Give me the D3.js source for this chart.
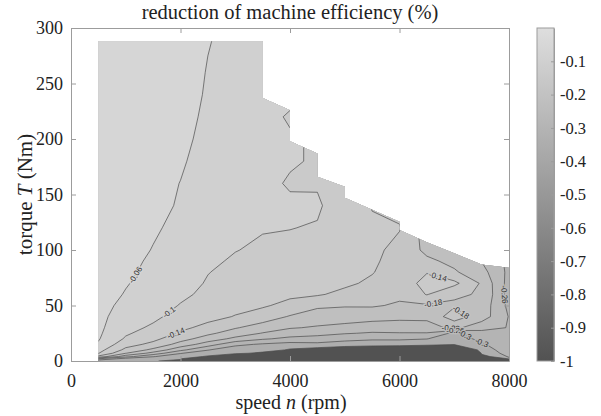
<!DOCTYPE html>
<html>
<head>
<meta charset="utf-8">
<script src="https://cdn.jsdelivr.net/npm/d3@7/dist/d3.min.js"></script>
<style>
  html, body { margin: 0; padding: 0; background: #fff; }
  svg { display: block; }
</style>
</head>
<body>
<svg id="chart" width="601" height="416"></svg>
<script>
// Measurement grid: speed columns (rpm) and torque rows (Nm)
const speeds = [500, 1000, 1500, 2000, 2500, 3000, 3500, 4000, 4500, 5000, 5500, 6000, 6500, 7000, 7500, 8000];
const torques = [0, 2, 4, 7, 10, 15, 20, 25, 30, 40, 50, 60, 70, 80, 90, 100, 120, 140, 160, 180, 200, 220, 240, 260, 290];

// Reduction of machine efficiency (%), one list per speed, ordered like `torques`
const reduction = [
  /* 500 */  [-0.335,-0.26,-0.15,-0.098,-0.085,-0.064,-0.057,-0.054,-0.052,-0.05,-0.048,-0.046,-0.045,-0.044,-0.043,-0.042,-0.04,-0.038,-0.036,-0.034,-0.032,-0.03,-0.028,-0.026,-0.024],
  /* 1000 */ [-0.338,-0.32,-0.245,-0.179,-0.15,-0.125,-0.105,-0.095,-0.088,-0.078,-0.069,-0.062,-0.058,-0.055,-0.053,-0.051,-0.048,-0.045,-0.043,-0.04,-0.038,-0.036,-0.034,-0.032,-0.03],
  /* 1500 */ [-0.335,-0.32,-0.298,-0.235,-0.19,-0.15,-0.13,-0.117,-0.106,-0.092,-0.083,-0.076,-0.071,-0.067,-0.064,-0.061,-0.057,-0.054,-0.051,-0.048,-0.045,-0.042,-0.04,-0.038,-0.035],
  /* 2000 */ [-0.36,-0.33,-0.32,-0.298,-0.25,-0.195,-0.165,-0.145,-0.131,-0.114,-0.102,-0.093,-0.086,-0.08,-0.075,-0.071,-0.066,-0.062,-0.0605,-0.057,-0.054,-0.051,-0.048,-0.046,-0.043],
  /* 2500 */ [-1,-0.9,-0.345,-0.32,-0.298,-0.24,-0.198,-0.172,-0.152,-0.127,-0.115,-0.108,-0.103,-0.099,-0.094,-0.09,-0.083,-0.077,-0.073,-0.07,-0.067,-0.065,-0.063,-0.0615,-0.0585],
  /* 3000 */ [-1,-1,-0.4,-0.33,-0.325,-0.29,-0.23,-0.198,-0.177,-0.142,-0.128,-0.12,-0.114,-0.109,-0.104,-0.099,-0.093,-0.088,-0.085,-0.082,-0.079,-0.076,-0.074,-0.071,-0.068],
  /* 3500 */ [-1,-1,-1,-0.35,-0.32,-0.305,-0.255,-0.222,-0.197,-0.16,-0.135,-0.126,-0.12,-0.115,-0.11,-0.105,-0.098,-0.094,-0.092,-0.09,-0.089,-0.088,-0.086,-0.084,-0.082],
  /* 4000 */ [-1,-1,-1,-0.9,-0.345,-0.315,-0.27,-0.24,-0.217,-0.183,-0.152,-0.132,-0.122,-0.115,-0.109,-0.105,-0.0995,-0.095,-0.103,-0.097,-0.096,-0.104,-0.09,-0.088,-0.086],
  /* 4500 */ [-1,-1,-1,-1,-0.36,-0.31,-0.275,-0.248,-0.224,-0.199,-0.173,-0.136,-0.125,-0.117,-0.111,-0.107,-0.1015,-0.097,-0.102,-0.103,-0.104,-0.105,-0.106,-0.106,-0.106],
  /* 5000 */ [-1,-1,-1,-1,-0.38,-0.315,-0.29,-0.257,-0.232,-0.2,-0.177,-0.15,-0.133,-0.124,-0.119,-0.116,-0.113,-0.113,-0.118,-0.12,-0.12,-0.12,-0.12,-0.12,-0.12],
  /* 5500 */ [-1,-1,-1,-1,-0.39,-0.32,-0.295,-0.264,-0.24,-0.205,-0.176,-0.16,-0.147,-0.138,-0.134,-0.132,-0.134,-0.142,-0.146,-0.15,-0.15,-0.15,-0.15,-0.15,-0.15],
  /* 6000 */ [-1,-1,-1,-1,-0.4,-0.32,-0.295,-0.262,-0.24,-0.21,-0.185,-0.172,-0.165,-0.16,-0.155,-0.15,-0.138,-0.15,-0.16,-0.16,-0.16,-0.16,-0.16,-0.16,-0.16],
  /* 6500 */ [-1,-1,-1,-1,-0.42,-0.325,-0.299,-0.262,-0.237,-0.21,-0.185,-0.138,-0.125,-0.142,-0.172,-0.19,-0.2,-0.2,-0.2,-0.2,-0.2,-0.2,-0.2,-0.2,-0.2],
  /* 7000 */ [-1,-1,-1,-1,-0.45,-0.335,-0.32,-0.31,-0.21,-0.16,-0.185,-0.175,-0.13,-0.175,-0.19,-0.2,-0.21,-0.21,-0.21,-0.21,-0.21,-0.21,-0.21,-0.21,-0.21],
  /* 7500 */ [-1,-1,-0.36,-0.33,-0.32,-0.305,-0.29,-0.275,-0.245,-0.2,-0.195,-0.183,-0.185,-0.205,-0.221,-0.23,-0.24,-0.24,-0.24,-0.24,-0.24,-0.24,-0.24,-0.24,-0.24],
  /* 8000 */ [-0.6,-0.31,-0.295,-0.285,-0.28,-0.275,-0.27,-0.265,-0.262,-0.262,-0.27,-0.275,-0.275,-0.27,-0.27,-0.27,-0.27,-0.27,-0.27,-0.27,-0.27,-0.27,-0.27,-0.27,-0.27]
];

// Maximum-torque envelope of the operating region (speed rpm, torque Nm)
const envelope = [[500, 0], [500, 288], [3500, 288], [3500, 237], [4000, 226], [4000, 198], [4500, 187], [4500, 166],
  [5000, 157], [5000, 147], [6000, 125.5], [6000, 118], [6500, 107], [7000, 97], [7500, 87], [8000, 84], [8000, 0]];

// Contour levels
const levels = [-0.34, -0.3, -0.26, -0.22, -0.18, -0.14, -0.1, -0.06, -0.02];

// Tick values
const speedTicks = [0, 2000, 4000, 6000, 8000];
const torqueTicks = [0, 50, 100, 150, 200, 250, 300];
const colorTicks = [-1, -0.9, -0.8, -0.7, -0.6, -0.5, -0.4, -0.3, -0.2, -0.1];

// Inline contour labels: level and the spot (rpm, Nm) near which it sits on its line
const contourLabels = [
  { level: -0.06, speed: 1130, torque: 79 },
  { level: -0.1, speed: 1850, torque: 40 },
  { level: -0.14, speed: 1940, torque: 22 },
  { level: -0.14, speed: 6700, torque: 76 },
  { level: -0.18, speed: 6610, torque: 54 },
  { level: -0.18, speed: 7120, torque: 44 },
  { level: -0.22, speed: 6940, torque: 32 },
  { level: -0.26, speed: 7020, torque: 28 },
  { level: -0.3, speed: 7230, torque: 27 },
  { level: -0.3, speed: 7540, torque: 21 },
  { level: -0.26, speed: 7930, torque: 60 }
];

const SERIF = "'Liberation Serif', 'Times New Roman', serif";
const svg = d3.select("#chart");
const plot = { left: 71, right: 509, top: 28, bottom: 361 };
const x = d3.scaleLinear().domain([0, 8000]).range([plot.left, plot.right]);
const y = d3.scaleLinear().domain([0, 300]).range([plot.bottom, plot.top]);
const shade = d3.scaleLinear().domain([-1, 0]).range(["#525252", "#dedede"]);

// Grid padded by one repeated row/column on every side so iso-lines never follow the data border
const pSpeeds = [speeds[0] - 250, ...speeds, speeds[speeds.length - 1] + 250];
const pTorques = [torques[0] - 5, ...torques, torques[torques.length - 1] + 10];
const nx = pSpeeds.length, ny = pTorques.length;
const grid = new Array(nx * ny);
for (let j = 0; j < ny; j++) {
  for (let i = 0; i < nx; i++) {
    const si = Math.min(Math.max(i - 1, 0), speeds.length - 1);
    const tj = Math.min(Math.max(j - 1, 0), torques.length - 1);
    grid[j * nx + i] = reduction[si][tj];
  }
}
// grid coordinate -> physical value along a (non-uniform) axis
function axisAt(arr, c) {
  const k = Math.min(Math.max(c - 0.5, 0), arr.length - 1);
  const i0 = Math.min(Math.floor(k), arr.length - 2);
  const f = k - i0;
  return arr[i0] + f * (arr[i0 + 1] - arr[i0]);
}
const toPx = (gx, gy) => [x(axisAt(pSpeeds, gx)), y(axisAt(pTorques, gy))];
const path = d3.geoPath(d3.geoTransform({
  point(gx, gy) { const p = toPx(gx, gy); this.stream.point(p[0], p[1]); }
}));
const bands = d3.contours().size([nx, ny]).thresholds(levels)(grid);

const defs = svg.append("defs");
defs.append("clipPath").attr("id", "region")
  .append("path")
  .attr("d", d3.line()(envelope.map(d => [x(d[0]), y(d[1])])) + "Z");

// Filled contour field
const field = svg.append("g").attr("clip-path", "url(#region)");
field.append("rect")
  .attr("x", plot.left).attr("y", plot.top)
  .attr("width", plot.right - plot.left).attr("height", plot.bottom - plot.top)
  .attr("fill", shade(-1));
field.selectAll("path.band").data(bands).join("path")
  .attr("class", "band")
  .attr("d", path)
  .attr("fill", d => shade(d.value));
field.selectAll("path.iso").data(bands).join("path")
  .attr("class", "iso")
  .attr("d", path)
  .attr("fill", "none")
  .attr("stroke", "#4c4c4c")
  .attr("stroke-width", 0.7)
  .attr("stroke-linejoin", "round");

// Contour labels snapped onto their iso-lines
function placeOnLine(level, px, py) {
  const band = bands.find(b => Math.abs(b.value - level) < 1e-9);
  let best = null;
  band.coordinates.flat().forEach(ring => {
    const pts = ring.map(p => toPx(p[0], p[1]));
    for (let k = 0; k < pts.length - 1; k++) {
      const [ax, ay] = pts[k], [bx, by] = pts[k + 1];
      const dx = bx - ax, dy = by - ay;
      const len2 = dx * dx + dy * dy;
      if (len2 === 0) continue;
      let t = ((px - ax) * dx + (py - ay) * dy) / len2;
      t = Math.max(0, Math.min(1, t));
      const qx = ax + t * dx, qy = ay + t * dy;
      const dist = (qx - px) ** 2 + (qy - py) ** 2;
      if (!best || dist < best.dist) best = { dist, qx, qy, angle: Math.atan2(dy, dx) * 180 / Math.PI };
    }
  });
  let a = best.angle;
  if (a > 90) a -= 180;
  if (a <= -90) a += 180;
  return { x: best.qx, y: best.qy, angle: a };
}
const labelLayer = svg.append("g").attr("clip-path", "url(#region)");
contourLabels.forEach(l => {
  const p = placeOnLine(l.level, x(l.speed), y(l.torque));
  labelLayer.append("text")
    .attr("transform", `translate(${p.x},${p.y}) rotate(${p.angle})`)
    .attr("text-anchor", "middle")
    .attr("dy", "0.35em")
    .attr("font-family", "'Liberation Sans', Arial, sans-serif")
    .attr("font-size", 8)
    .attr("fill", "#303030")
    .attr("stroke", shade(l.level))
    .attr("stroke-width", 2.6)
    .attr("paint-order", "stroke")
    .text(String(l.level));
});

// Axes (box with inward ticks)
function styleAxis(g, size) {
  g.attr("font-family", SERIF).attr("font-size", size);
  g.select(".domain").attr("stroke", "#9c9c9c");
  g.selectAll(".tick line").attr("stroke", "#9c9c9c");
  g.selectAll(".tick text")
    .attr("font-family", SERIF)
    .attr("font-size", size)
    .attr("fill", "#222");
}
svg.append("g").attr("transform", `translate(0,${plot.bottom})`)
  .call(d3.axisBottom(x).tickValues(speedTicks).tickSizeInner(-5).tickSizeOuter(0).tickPadding(13).tickFormat(d3.format("d")))
  .call(styleAxis, 18);
svg.append("g").attr("transform", `translate(0,${plot.top})`)
  .call(d3.axisTop(x).tickValues(speedTicks).tickSizeInner(-5).tickSizeOuter(0).tickFormat(""))
  .call(styleAxis, 18);
svg.append("g").attr("transform", `translate(${plot.left},0)`)
  .call(d3.axisLeft(y).tickValues(torqueTicks).tickSizeInner(-5).tickSizeOuter(0).tickPadding(8).tickFormat(d3.format("d")))
  .call(styleAxis, 18);
svg.append("g").attr("transform", `translate(${plot.right},0)`)
  .call(d3.axisRight(y).tickValues(torqueTicks).tickSizeInner(-5).tickSizeOuter(0).tickFormat(""))
  .call(styleAxis, 18);

// Colour bar
const cbar = { left: 537, right: 554 };
const cy = d3.scaleLinear().domain([-1, 0]).range([plot.bottom, plot.top]);
const grad = defs.append("linearGradient").attr("id", "ramp")
  .attr("x1", 0).attr("y1", 1).attr("x2", 0).attr("y2", 0);
grad.append("stop").attr("offset", 0).attr("stop-color", shade(-1));
grad.append("stop").attr("offset", 1).attr("stop-color", shade(0));
svg.append("rect")
  .attr("x", cbar.left).attr("y", cy(0))
  .attr("width", cbar.right - cbar.left).attr("height", cy(-1) - cy(0))
  .attr("fill", "url(#ramp)")
  .attr("stroke", "#9c9c9c");
svg.append("g").attr("transform", `translate(${cbar.right},0)`)
  .call(d3.axisRight(cy).tickValues(colorTicks).tickSizeInner(-3).tickSizeOuter(0).tickPadding(6).tickFormat(d => String(d)))
  .call(styleAxis, 16.5);

// Title and axis labels
svg.append("text")
  .attr("font-family", SERIF).attr("fill", "#222")
  .attr("x", (plot.left + plot.right) / 2).attr("y", 19)
  .attr("text-anchor", "middle").attr("font-size", 20.5)
  .text("reduction of machine efficiency (%)");

const xl = svg.append("text")
  .attr("font-family", SERIF).attr("fill", "#222")
  .attr("x", (plot.left + plot.right) / 2 + 1).attr("y", 409)
  .attr("text-anchor", "middle").attr("font-size", 20);
xl.append("tspan").text("speed ");
xl.append("tspan").attr("font-style", "italic").text("n");
xl.append("tspan").text(" (rpm)");

const yl = svg.append("text")
  .attr("font-family", SERIF).attr("fill", "#222")
  .attr("transform", `translate(32,${(plot.top + plot.bottom) / 2}) rotate(-90)`)
  .attr("text-anchor", "middle").attr("font-size", 21);
yl.append("tspan").text("torque ");
yl.append("tspan").attr("font-style", "italic").text("T");
yl.append("tspan").text(" (Nm)");
</script>
</body>
</html>
